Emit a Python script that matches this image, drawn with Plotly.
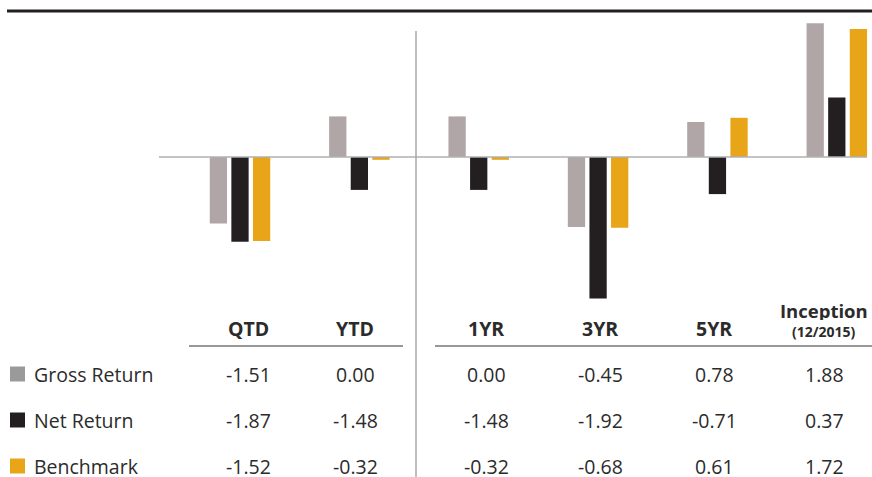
import plotly.graph_objects as go

# ---- data ----
categories = ["QTD", "YTD", "1YR", "3YR", "5YR", "Inception"]
series_names = ["Gross Return", "Net Return", "Benchmark"]

# bar heights as drawn in the chart
gross_bar = [-0.95, 0.58, 0.58, -1.00, 0.50, 1.91]
net_bar = [-1.21, -0.47, -0.47, -2.02, -0.53, 0.85]
bench_bar = [-1.20, -0.04, -0.04, -1.01, 0.56, 1.83]

# table values
gross_tbl = ["-1.51", "0.00", "0.00", "-0.45", "0.78", "1.88"]
net_tbl = ["-1.87", "-1.48", "-1.48", "-1.92", "-0.71", "0.37"]
bench_tbl = ["-1.52", "-0.32", "-0.32", "-0.68", "0.61", "1.72"]
header_labels = ["QTD", "YTD", "1YR", "3YR", "5YR", "Inception"]
inception_sub = "(12/2015)"

bar_colors = ["#b0a6a7", "#231f20", "#e8a517"]
legend_colors = ["#9a9a9a", "#231f20", "#e8a517"]

W, H = 872, 477
FONT = "Open Sans"
TXT = "#2b2b2b"


def px(x):
    return x / W


def py(y):
    return 1 - y / H


fig = go.Figure()
for name, vals, col in zip(series_names, [gross_bar, net_bar, bench_bar], bar_colors):
    fig.add_trace(go.Bar(x=list(range(len(categories))), y=vals, name=name,
                         marker=dict(color=col, line=dict(width=0)),
                         hoverinfo="skip"))

shapes = []
# top rule
shapes.append(dict(type="line", xref="paper", yref="paper", x0=px(7), x1=1, y0=py(11), y1=py(11),
                   line=dict(color="#231f20", width=3)))
# zero line
shapes.append(dict(type="line", xref="paper", yref="y", x0=px(159), x1=px(867), y0=0, y1=0,
                   line=dict(color="#b0b0b0", width=1.5)))
# vertical separator
shapes.append(dict(type="line", xref="paper", yref="paper", x0=px(416), x1=px(416), y0=py(31), y1=py(477),
                   line=dict(color="#a8a8a8", width=1.5)))
# header underlines
for a, b in [(189, 403), (435, 872)]:
    shapes.append(dict(type="line", xref="paper", yref="paper", x0=px(a), x1=px(b), y0=py(346), y1=py(346),
                       line=dict(color="#333333", width=1.2)))

row_y = [374, 420, 466]
# legend squares
for yy, col in zip(row_y, legend_colors):
    shapes.append(dict(type="rect", xref="paper", yref="paper", x0=px(10), x1=px(25),
                       y0=py(yy + 7.5), y1=py(yy - 7.5), fillcolor=col, line=dict(width=0)))

annotations = []
col_x = [248, 355, 486, 600, 714, 824]
FS = 19.5
for i, h in enumerate(header_labels):
    if h == "Inception":
        annotations.append(dict(x=px(col_x[i]), y=py(310), xref="paper", yref="paper", text="<b>Inception</b>",
                                showarrow=False, xanchor="center", yanchor="middle", height=20,
                                font=dict(family=FONT, size=18.5, color=TXT)))
        annotations.append(dict(x=px(col_x[i]), y=py(331), xref="paper", yref="paper",
                                text="<b>" + inception_sub + "</b>", height=17,
                                showarrow=False, xanchor="center", yanchor="middle",
                                font=dict(family=FONT, size=14, color=TXT)))
    else:
        annotations.append(dict(x=px(col_x[i]), y=py(328), xref="paper", yref="paper", text="<b>" + h + "</b>",
                                showarrow=False, xanchor="center", yanchor="middle",
                                font=dict(family=FONT, size=FS, color=TXT)))

for yy, name, vals in zip(row_y, series_names, [gross_tbl, net_tbl, bench_tbl]):
    annotations.append(dict(x=px(32), y=py(yy), xref="paper", yref="paper", text=name,
                            showarrow=False, xanchor="left", yanchor="middle", height=21,
                            font=dict(family=FONT, size=FS, color=TXT)))
    for i, v in enumerate(vals):
        annotations.append(dict(x=px(col_x[i]), y=py(yy), xref="paper", yref="paper", text=v,
                                showarrow=False, xanchor="center", yanchor="middle", height=21,
                                font=dict(family=FONT, size=FS, color=TXT)))

scale = 70.0  # px per unit
zero_px = 157
pitch = 119.36
first_c = 240
fig.update_layout(
    width=W, height=H, autosize=False,
    margin=dict(l=0, r=0, t=0, b=0),
    paper_bgcolor="white", plot_bgcolor="white",
    barmode="group", bargap=0.457, bargroupgap=0.2,
    showlegend=False,
    xaxis=dict(range=[-first_c / pitch, (W - first_c) / pitch], showgrid=False, zeroline=False,
               showticklabels=False, showline=False, fixedrange=True),
    yaxis=dict(range=[-(H - zero_px) / scale, zero_px / scale], showgrid=False, zeroline=False,
               showticklabels=False, showline=False, fixedrange=True),
    shapes=shapes, annotations=annotations,
)

fig.write_html("out.html", config={"displayModeBar": False},
               post_script="document.body.style.margin='0';document.body.style.overflow='hidden';")
